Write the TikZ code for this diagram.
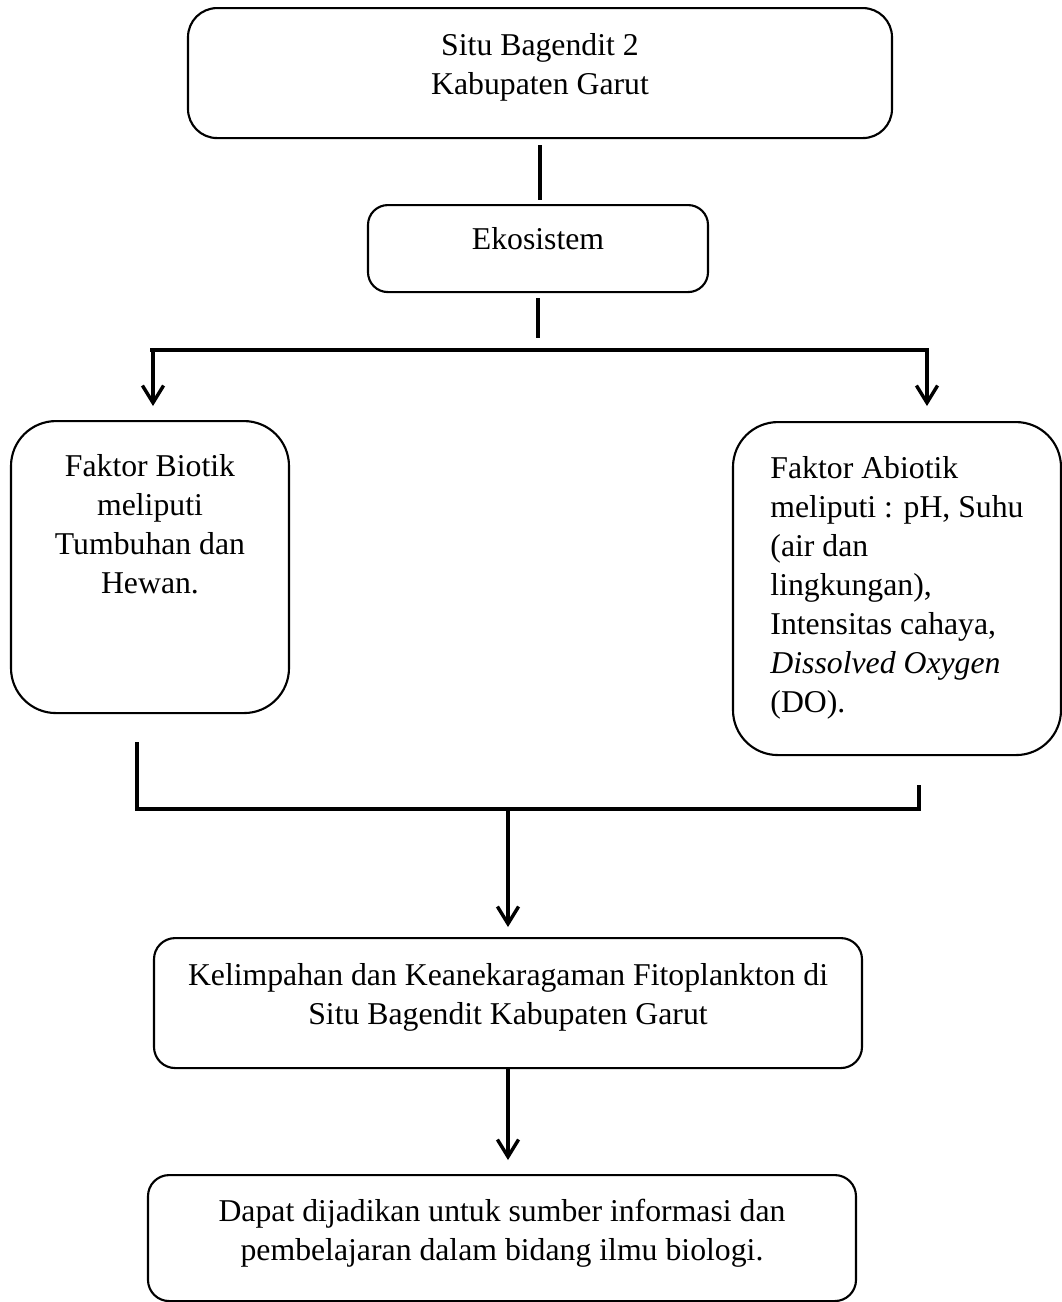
\documentclass[tikz,border=0pt]{standalone}
\usepackage{fontspec}
\setmainfont{Liberation Serif}
\usetikzlibrary{arrows.meta}
\newlength{\px}
\setlength{\px}{0.378pt}

\tikzset{
    box/.style={draw, line width=0.8pt, inner xsep=0pt, inner ysep=0pt, anchor=north},
    bar/.style={line width=1.4pt},
    bus/.style={line width=1.6pt},
    arrow/.style={line width=1.3pt, -{Straight Barb[length=6.5pt, width=8pt]}}
}

\begin{document}
\begin{tikzpicture}[x=0.378pt, y=-0.378pt, font=\fontsize{12}{14.74}\selectfont]
    \useasboundingbox (0,0) rectangle (1062,1302);

    \node[box, align=center, rounded corners=11pt, minimum width=704\px,
        text height=86\px, text depth=44\px] (situ) at (540,7)
        {Situ Bagendit 2\\Kabupaten Garut};

    \node[box, align=center, rounded corners=7.5pt, minimum width=340\px,
        text height=44\px, text depth=43\px] (eko) at (538,204)
        {Ekosistem};

    \node[box, align=center, rounded corners=17pt, minimum width=278\px,
        text height=172\px, text depth=120\px] (biotik) at (150,420)
        {Faktor Biotik\\meliputi\\Tumbuhan dan\\Hewan.};

    \node[box, align=left, rounded corners=17pt, minimum width=328\px,
        text height=290\px, text depth=43\px] (abiotik) at (897,421)
        {Faktor Abiotik\\meliputi : pH, Suhu\\(air dan\\lingkungan),\\Intensitas cahaya,\\\textit{Dissolved Oxygen}\\(DO).};

    \node[box, align=center, rounded corners=8pt, minimum width=708\px,
        text height=86\px, text depth=44\px] (kelimpahan) at (508,937)
        {Kelimpahan dan Keanekaragaman Fitoplankton di\\Situ Bagendit Kabupaten Garut};

    \node[box, align=center, rounded corners=8pt, minimum width=708\px,
        text height=85\px, text depth=41\px] (dapat) at (502,1174)
        {Dapat dijadikan untuk sumber informasi dan\\pembelajaran dalam bidang ilmu biologi.};

    \coordinate (splitL) at (153,350);
    \coordinate (splitR) at (927,350);
    \coordinate (joinL) at (137,809);
    \coordinate (joinR) at (919,809);

    \draw[bar, shorten <=6\px, shorten >=4\px] (situ.south) -- (situ.south |- eko.north);
    \draw[bar, shorten <=5\px, shorten >=12\px] (eko.south) -- (eko.south |- splitL);
    \draw[bus] ([xshift=-3\px]splitL) -- ([xshift=2\px]splitR);
    \draw[arrow, shorten >=14\px] (splitL) -- (splitL |- biotik.north);
    \draw[arrow, shorten >=15\px] (splitR) -- (splitR |- abiotik.north);

    \draw[bus] ([yshift=-28\px]biotik.south -| joinL) -- (joinL) -- (joinR)
        -- ([yshift=-29\px]abiotik.south -| joinR);
    \draw[arrow] (kelimpahan.north |- joinL) -- ([yshift=10\px]kelimpahan.north);
    \draw[arrow, shorten >=14\px] (kelimpahan.south) -- (kelimpahan.south |- dapat.north);
\end{tikzpicture}
\end{document}
